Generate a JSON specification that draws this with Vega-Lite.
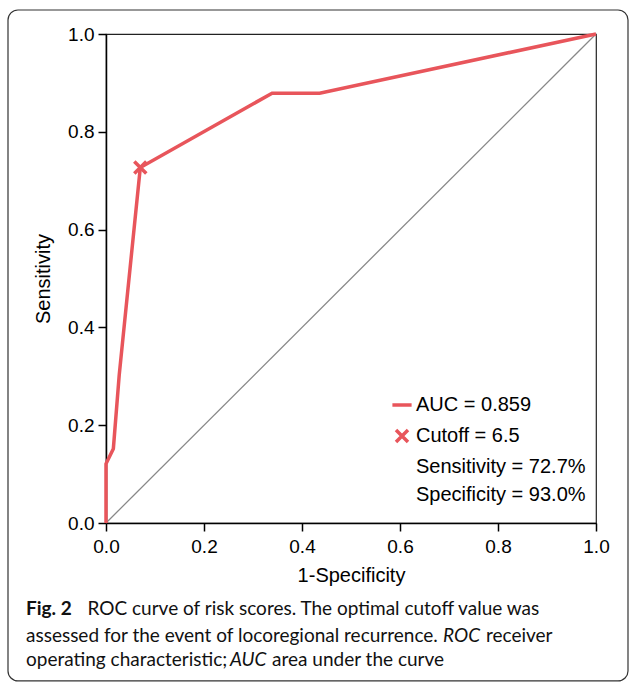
{
  "$schema": "https://vega.github.io/schema/vega-lite/v6.json",
  "width": 490,
  "height": 489,
  "autosize": {"type": "none"},
  "padding": {"left": 106, "top": 34, "right": 34, "bottom": 159},
  "background": "white",
  "config": {
    "view": {"stroke": "#222", "strokeWidth": 1.2},
    "axis": {
      "labelFont": "Liberation Sans", "labelFontSize": 19, "labelColor": "#000",
      "titleFont": "Liberation Sans", "titleFontSize": 20, "titleFontWeight": "normal", "titleColor": "#000",
      "domainColor": "#000", "domainWidth": 1.5, "tickColor": "#000", "tickWidth": 1.5, "tickSize": 8,
      "grid": false, "labelFlush": false, "labelOverlap": false
    }
  },
  "datasets": {
    "roc": [
      {"fpr": 0, "tpr": 0, "series": "AUC = 0.859"},
      {"fpr": 0, "tpr": 0.121, "series": "AUC = 0.859"},
      {"fpr": 0.015, "tpr": 0.152, "series": "AUC = 0.859"},
      {"fpr": 0.027, "tpr": 0.303, "series": "AUC = 0.859"},
      {"fpr": 0.07, "tpr": 0.727, "series": "AUC = 0.859"},
      {"fpr": 0.339, "tpr": 0.879, "series": "AUC = 0.859"},
      {"fpr": 0.436, "tpr": 0.879, "series": "AUC = 0.859"},
      {"fpr": 1, "tpr": 1, "series": "AUC = 0.859"}
    ],
    "diag": [{"fpr": 0, "tpr": 0}, {"fpr": 1, "tpr": 1}],
    "cutoff": [{"fpr": 0.07, "tpr": 0.727, "series": "Cutoff = 6.5"}],
    "one": [{}]
  },
  "layer": [
    {
      "data": {"name": "diag"},
      "mark": {"type": "line", "color": "#888888", "strokeWidth": 1.3},
      "encoding": {
        "x": {"field": "fpr", "type": "quantitative", "scale": {"domain": [0, 1], "nice": false},
          "axis": {"values": [0, 0.2, 0.4, 0.6, 0.8, 1], "format": ".1f", "title": "1-Specificity", "labelPadding": 6, "titlePadding": 9}},
        "y": {"field": "tpr", "type": "quantitative", "scale": {"domain": [0, 1], "nice": false},
          "axis": {"values": [0, 0.2, 0.4, 0.6, 0.8, 1], "format": ".1f", "title": "Sensitivity", "labelPadding": 4, "titlePadding": 14}}
      }
    },
    {
      "data": {"name": "roc"},
      "mark": {"type": "line", "strokeWidth": 3.5},
      "encoding": {
        "x": {"field": "fpr", "type": "quantitative"},
        "y": {"field": "tpr", "type": "quantitative"},
        "order": [{"field": "fpr"}, {"field": "tpr"}],
        "color": {"field": "series", "type": "nominal",
          "scale": {"domain": ["AUC = 0.859", "Cutoff = 6.5", "Sensitivity = 72.7%", "Specificity = 93.0%"],
                    "range": ["#e8555b", "#e8555b", "transparent", "transparent"]},
          "legend": {"orient": "none", "legendX": 286, "legendY": 361, "title": null,
            "labelFont": "Liberation Sans", "labelFontSize": 20, "labelColor": "#000", "labelLimit": 0,
            "symbolSize": 144, "symbolStrokeWidth": 3.5, "symbolFillColor": "transparent",
            "rowPadding": 8, "labelOffset": 4, "padding": 0}}
      }
    },
    {
      "data": {"name": "cutoff"},
      "mark": {"type": "point", "filled": false, "size": 144, "strokeWidth": 3.5, "opacity": 1},
      "encoding": {
        "x": {"field": "fpr", "type": "quantitative"},
        "y": {"field": "tpr", "type": "quantitative"},
        "color": {"field": "series", "type": "nominal"},
        "shape": {"field": "series", "type": "nominal",
          "scale": {"domain": ["AUC = 0.859", "Cutoff = 6.5", "Sensitivity = 72.7%", "Specificity = 93.0%"],
                    "range": ["M-1.6,0L1.6,0", "M-1,-1L1,1M-1,1L1,-1", "M0,0L0,0", "M0,0L0,0"]}}
      }
    },
    {
      "data": {"name": "one"},
      "mark": {"type": "rect", "fill": "transparent", "stroke": "#333", "strokeWidth": 1.2, "cornerRadius": 10},
      "encoding": {
        "x": {"datum": -0.2}, "x2": {"datum": 1.0653},
        "y": {"datum": 1.0491}, "y2": {"datum": -0.323}
      }
    },
    {
      "data": {"name": "one"},
      "mark": {"type": "text", "text": "Fig. 2", "font": "Lato", "fontSize": 19, "fontWeight": "bold", "align": "left", "baseline": "middle", "color": "#111"},
      "encoding": {"x": {"datum": -0.1633}, "y": {"datum": -0.1759}}
    },
    {
      "data": {"name": "one"},
      "mark": {"type": "text", "text": "ROC curve of risk scores. The optimal cutoff value was", "font": "Lato", "fontSize": 19, "align": "left", "baseline": "middle", "color": "#111"},
      "encoding": {"x": {"datum": -0.0378}, "y": {"datum": -0.1759}}
    },
    {
      "data": {"name": "one"},
      "mark": {"type": "text", "text": "assessed for the event of locoregional recurrence.", "font": "Lato", "fontSize": 19, "align": "left", "baseline": "middle", "color": "#111"},
      "encoding": {"x": {"datum": -0.1633}, "y": {"datum": -0.2311}}
    },
    {
      "data": {"name": "one"},
      "mark": {"type": "text", "text": "ROC", "font": "Lato", "fontSize": 19, "fontStyle": "italic", "align": "left", "baseline": "middle", "color": "#111"},
      "encoding": {"x": {"datum": 0.6878}, "y": {"datum": -0.2311}}
    },
    {
      "data": {"name": "one"},
      "mark": {"type": "text", "text": "receiver", "font": "Lato", "fontSize": 19, "align": "left", "baseline": "middle", "color": "#111"},
      "encoding": {"x": {"datum": 0.7755}, "y": {"datum": -0.2311}}
    },
    {
      "data": {"name": "one"},
      "mark": {"type": "text", "text": "operating characteristic;", "font": "Lato", "fontSize": 19, "align": "left", "baseline": "middle", "color": "#111"},
      "encoding": {"x": {"datum": -0.1633}, "y": {"datum": -0.2802}}
    },
    {
      "data": {"name": "one"},
      "mark": {"type": "text", "text": "AUC", "font": "Lato", "fontSize": 19, "fontStyle": "italic", "align": "left", "baseline": "middle", "color": "#111"},
      "encoding": {"x": {"datum": 0.2531}, "y": {"datum": -0.2802}}
    },
    {
      "data": {"name": "one"},
      "mark": {"type": "text", "text": "area under the curve", "font": "Lato", "fontSize": 19, "align": "left", "baseline": "middle", "color": "#111"},
      "encoding": {"x": {"datum": 0.3388}, "y": {"datum": -0.2802}}
    }
  ]
}
